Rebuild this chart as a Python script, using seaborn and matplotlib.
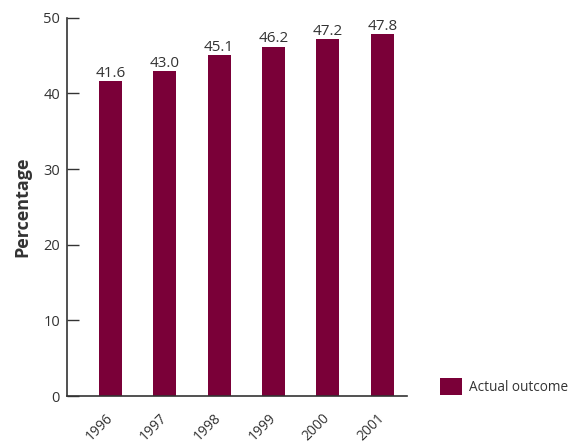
import matplotlib
matplotlib.use("Agg")
import matplotlib.pyplot as plt
import seaborn as sns
import pandas as pd
from matplotlib.patches import Patch

years = ["1996", "1997", "1998", "1999", "2000", "2001"]
values = [41.6, 43.0, 45.1, 46.2, 47.2, 47.8]
series_name = "Actual outcome"
y_ticks = [0, 10, 20, 30, 40, 50]

bar_color = "#7a0038"
text_color = "#333333"

sns.set_theme(style="white")
plt.rcParams["font.family"] = ["Open Sans", "DejaVu Sans"]

fig = plt.figure(figsize=(5.72, 4.45), dpi=100)
ax = fig.add_axes([0.117, 0.110, 0.594, 0.850])

df = pd.DataFrame({"year": years, "value": values})
sns.barplot(data=df, x="year", y="value", color=bar_color, width=0.42,
            saturation=1, linewidth=0, ax=ax)

for i, v in enumerate(values):
    ax.text(i, v + 0.55, f"{v:.1f}", ha="center", va="baseline",
            fontsize=11, color=text_color)

ax.set_xlim(-0.8, 5.45)
ax.set_ylim(0, 50)
ax.set_yticks(y_ticks)
ax.set_yticklabels([str(t) for t in y_ticks], fontsize=10.5, color=text_color)
ax.tick_params(axis="y", direction="in", length=8.5, width=1, color=text_color, pad=5, left=True)
ax.tick_params(axis="x", length=0, pad=14.5)
for lbl in ax.get_xticklabels():
    lbl.set_rotation(45)
    lbl.set_ha("right")
    lbl.set_va("center")
    lbl.set_rotation_mode("anchor")
    lbl.set_fontsize(10)
    lbl.set_color(text_color)

ax.set_xlabel("")
ax.set_ylabel("Percentage", fontsize=13, fontweight="bold", color=text_color)
ax.yaxis.set_label_coords(-0.13, 0.5)
ax.yaxis.label.set_va("center")

sns.despine(ax=ax)
for s in ["left", "bottom"]:
    ax.spines[s].set_color(text_color)
    ax.spines[s].set_linewidth(1.2)

handle = Patch(facecolor=bar_color, edgecolor="none", label=series_name)
fig.legend(handles=[handle], loc="center left", bbox_to_anchor=(0.769, 0.1315),
           frameon=False, fontsize=9.8, handlelength=1.65, handleheight=1.65,
           handletextpad=0.5, borderpad=0, borderaxespad=0, labelcolor=text_color)

fig.savefig("out.png", dpi=100)
